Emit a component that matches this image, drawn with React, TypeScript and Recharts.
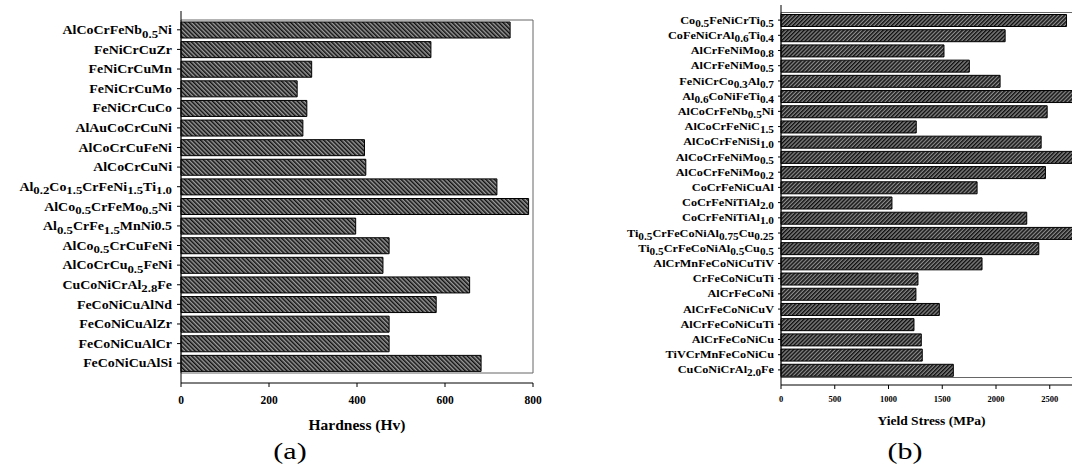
import React from "react";
import { Bar, BarChart, ReferenceArea, XAxis, YAxis } from "recharts";

// (a) hardness, top to bottom
const HARDNESS_ALLOYS = [
  "AlCoCrFeNb_{0.5}Ni",
  "FeNiCrCuZr",
  "FeNiCrCuMn",
  "FeNiCrCuMo",
  "FeNiCrCuCo",
  "AlAuCoCrCuNi",
  "AlCoCrCuFeNi",
  "AlCoCrCuNi",
  "Al_{0.2}Co_{1.5}CrFeNi_{1.5}Ti_{1.0}",
  "AlCo_{0.5}CrFeMo_{0.5}Ni",
  "Al_{0.5}CrFe_{1.5}MnNi0.5",
  "AlCo_{0.5}CrCuFeNi",
  "AlCoCrCu_{0.5}FeNi",
  "CuCoNiCrAl_{2.8}Fe",
  "FeCoNiCuAlNd",
  "FeCoNiCuAlZr",
  "FeCoNiCuAlCr",
  "FeCoNiCuAlSi",
];
const HARDNESS_HV = [748, 568, 297, 264, 286, 277, 417, 420, 718, 790, 397, 473, 459, 656, 580, 473, 473, 682];
const HARDNESS_TICKS = [0, 200, 400, 600, 800];

// (b) yield stress, top to bottom
const YIELD_ALLOYS = [
  "Co_{0.5}FeNiCrTi_{0.5}",
  "CoFeNiCrAl_{0.6}Ti_{0.4}",
  "AlCrFeNiMo_{0.8}",
  "AlCrFeNiMo_{0.5}",
  "FeNiCrCo_{0.3}Al_{0.7}",
  "Al_{0.6}CoNiFeTi_{0.4}",
  "AlCoCrFeNb_{0.5}Ni",
  "AlCoCrFeNiC_{1.5}",
  "AlCoCrFeNiSi_{1.0}",
  "AlCoCrFeNiMo_{0.5}",
  "AlCoCrFeNiMo_{0.2}",
  "CoCrFeNiCuAl",
  "CoCrFeNiTiAl_{2.0}",
  "CoCrFeNiTiAl_{1.0}",
  "Ti_{0.5}CrFeCoNiAl_{0.75}Cu_{0.25}",
  "Ti_{0.5}CrFeCoNiAl_{0.5}Cu_{0.5}",
  "AlCrMnFeCoNiCuTiV",
  "CrFeCoNiCuTi",
  "AlCrFeCoNi",
  "AlCrFeCoNiCuV",
  "AlCrFeCoNiCuTi",
  "AlCrFeCoNiCu",
  "TiVCrMnFeCoNiCu",
  "CuCoNiCrAl_{2.0}Fe",
];
const YIELD_MPA = [2656, 2085, 1516, 1752, 2038, 2750, 2476, 1258, 2420, 2750, 2460, 1824, 1032, 2286, 2720, 2398, 1870, 1274, 1255, 1473, 1237, 1305, 1314, 1603];
const YIELD_TICKS = [0, 500, 1000, 1500, 2000, 2500];

const SERIF = "'Liberation Serif', 'Times New Roman', serif";

const hardnessData = HARDNESS_ALLOYS.map((name, i) => ({ name, value: HARDNESS_HV[i] }));
const yieldData = YIELD_ALLOYS.map((name, i) => ({ name, value: YIELD_MPA[i] }));

function splitSub(label: string) {
  const parts: { text: string; sub: boolean }[] = [];
  const re = /_\{([^}]*)\}/g;
  let last = 0;
  let m: RegExpExecArray | null;
  while ((m = re.exec(label))) {
    if (m.index > last) parts.push({ text: label.slice(last, m.index), sub: false });
    parts.push({ text: m[1], sub: true });
    last = m.index + m[0].length;
  }
  if (last < label.length) parts.push({ text: label.slice(last), sub: false });
  return parts;
}

function makeAlloyTick(fontSize: number, stretch: number, subShift: number) {
  return function AlloyTick(props: any) {
    const { x, y, payload } = props;
    const parts = splitSub(String(payload.value));
    let shifted = false;
    return (
      <g transform={`translate(${x},${y})`}>
        <text
          transform={`scale(${stretch},1)`}
          textAnchor="end"
          dy="0.35em"
          fontSize={fontSize}
          fontWeight="bold"
          fontFamily={SERIF}
          fill="#000"
        >
          {parts.map((p, i) => {
            let dy = 0;
            if (p.sub && !shifted) {
              dy = subShift;
              shifted = true;
            } else if (!p.sub && shifted) {
              dy = -subShift;
              shifted = false;
            }
            return (
              <tspan key={i} dy={dy || undefined} fontSize={p.sub ? fontSize * 0.92 : fontSize}>
                {p.text}
              </tspan>
            );
          })}
        </text>
      </g>
    );
  };
}

const HardnessTick = makeAlloyTick(12, 1.16, 3.5);
const YieldTick = makeAlloyTick(10.2, 1.2, 3);

export default function App() {
  return (
    <div
      style={{
        position: "absolute",
        left: 0,
        top: 0,
        width: 1072,
        height: 473,
        overflow: "hidden",
        background: "#fff",
      }}
    >
      <svg width={0} height={0} style={{ position: "absolute" }}>
        <defs>
          <pattern id="hatchA" width="3" height="3" patternUnits="userSpaceOnUse" patternTransform="rotate(-45)">
            <rect width="3" height="3" fill="#9a9a9a" />
            <rect width="1.5" height="3" fill="#111" />
          </pattern>
          <pattern id="hatchB" width="2.8" height="2.8" patternUnits="userSpaceOnUse" patternTransform="rotate(45)">
            <rect width="2.8" height="2.8" fill="#8a8a8a" />
            <rect width="1.5" height="2.8" fill="#111" />
          </pattern>
        </defs>
      </svg>

      <div style={{ position: "absolute", left: 0, top: 0 }}>
        <BarChart
          width={545}
          height={473}
          data={hardnessData}
          layout="vertical"
          margin={{ top: 11, right: 12, bottom: 0, left: 0 }}
        >
          <ReferenceArea x1={0} x2={800} fill="none" stroke="#666" strokeWidth={1} />
          <XAxis
            type="number"
            domain={[0, 800]}
            ticks={HARDNESS_TICKS}
            height={90}
            tickSize={4}
            tickMargin={9}
            axisLine={{ stroke: "#000" }}
            tickLine={{ stroke: "#000" }}
            tick={{ fontSize: 11.5, fontWeight: "bold", fontFamily: SERIF, fill: "#000" }}
            label={{
              value: "Hardness (Hv)",
              position: "insideBottom",
              offset: 43,
              fontSize: 15.5,
              fontWeight: "bold",
              fontFamily: SERIF,
              fill: "#000",
            }}
          />
          <YAxis
            type="category"
            dataKey="name"
            width={181}
            interval={0}
            padding={{ top: 9, bottom: 10 }}
            tickSize={4}
            tickMargin={5}
            axisLine={{ stroke: "#000" }}
            tickLine={{ stroke: "#000" }}
            tick={<HardnessTick />}
          />
          <Bar dataKey="value" barSize={16} fill="url(#hatchA)" stroke="#000" strokeWidth={1} isAnimationActive={false} />
        </BarChart>
      </div>

      <div style={{ position: "absolute", left: 560, top: 0 }}>
        <BarChart
          width={522}
          height={473}
          data={yieldData}
          layout="vertical"
          margin={{ top: 5, right: 0, bottom: 0, left: 0 }}
        >
          <ReferenceArea x1={0} x2={2800} fill="none" stroke="#666" strokeWidth={1} />
          <XAxis
            type="number"
            domain={[0, 2800]}
            ticks={YIELD_TICKS}
            height={88}
            tickSize={4}
            tickMargin={7}
            axisLine={{ stroke: "#000" }}
            tickLine={{ stroke: "#000" }}
            tick={{ fontSize: 8.5, fontWeight: "bold", fontFamily: SERIF, fill: "#000" }}
            label={{
              value: "Yield Stress (MPa)",
              position: "insideBottom",
              offset: 48,
              fontSize: 13.5,
              fontWeight: "bold",
              fontFamily: SERIF,
              fill: "#000",
            }}
          />
          <YAxis
            type="category"
            dataKey="name"
            width={221}
            interval={0}
            padding={{ top: 7.5, bottom: 7.5 }}
            tickSize={3}
            tickMargin={4}
            axisLine={{ stroke: "#000" }}
            tickLine={{ stroke: "#000" }}
            tick={<YieldTick />}
          />
          <Bar dataKey="value" barSize={12} fill="url(#hatchB)" stroke="#000" strokeWidth={1} isAnimationActive={false} />
        </BarChart>
      </div>

      <div
        style={{
          position: "absolute",
          left: 290,
          top: 437,
          transform: "translateX(-50%) scaleX(1.25)",
          fontFamily: SERIF,
          fontSize: 24,
          lineHeight: "28px",
          color: "#000",
        }}
      >
        (a)
      </div>
      <div
        style={{
          position: "absolute",
          left: 905,
          top: 437,
          transform: "translateX(-50%) scaleX(1.25)",
          fontFamily: SERIF,
          fontSize: 24,
          lineHeight: "28px",
          color: "#000",
        }}
      >
        (b)
      </div>
    </div>
  );
}
